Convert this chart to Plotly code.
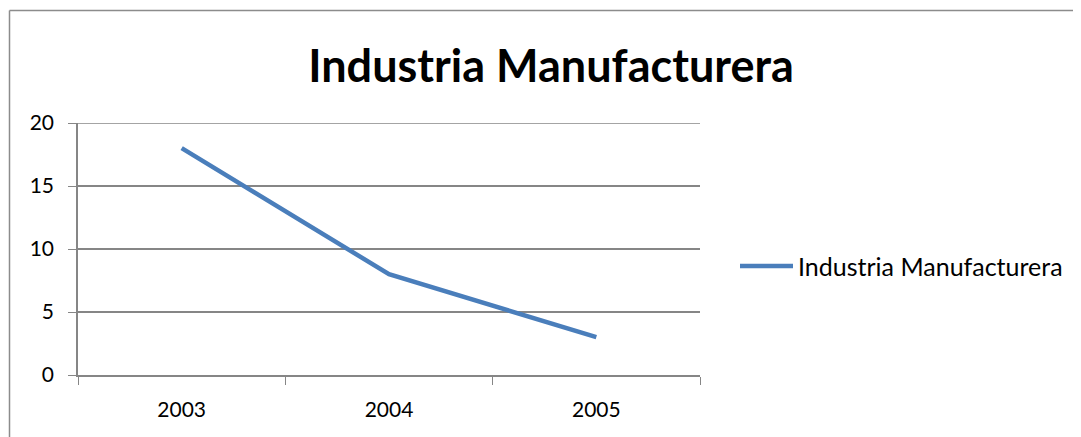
import plotly.graph_objects as go

categories = ["2003", "2004", "2005"]
values = [18, 8, 3]
series_name = "Industria Manufacturera"
title_text = "Industria Manufacturera"
y_ticks = [0, 5, 10, 15, 20]

FONT = "Lato, Carlito, Calibri, sans-serif"
LINE_COLOR = "#4A7EBB"
GRID = "#868686"

# figure sized so that, with the page's 8px body margin, it fills the window exactly
L, T, R, B = 70, 115, 381, 62
W, H = 1073, 429
PW, PH = W - L - R, H - T - B


def px_x(x):
    return (x - L) / PW


def px_y(y):
    return (H - B - y) / PH


fig = go.Figure()
fig.add_trace(go.Scatter(
    x=categories, y=values, mode="lines", name=series_name,
    line=dict(color=LINE_COLOR, width=4.5), showlegend=False,
))

fig.update_layout(
    width=W, height=H,
    margin=dict(l=L, r=R, t=T, b=B),
    paper_bgcolor="white", plot_bgcolor="white",
    font=dict(family=FONT, color="black", size=21),
    title=dict(text="<b>" + title_text + "</b>", x=543 / W, xref="container", xanchor="center",
               y=1 - 58 / H, yref="container", yanchor="middle",
               font=dict(size=45, family=FONT, color="black")),
    showlegend=False,
    shapes=[
        dict(type="line", xref="paper", yref="paper",
             x0=px_x(1.5), x1=px_x(1100), y0=px_y(2.5), y1=px_y(2.5),
             line=dict(color="#8C8C8C", width=1.5), layer="below"),
        dict(type="line", xref="paper", yref="paper",
             x0=px_x(1.5), x1=px_x(1.5), y0=px_y(460), y1=px_y(2.5),
             line=dict(color="#8C8C8C", width=1.5), layer="below"),
        dict(type="line", xref="paper", yref="paper",
             x0=px_x(732), x1=px_x(785), y0=px_y(258), y1=px_y(258),
             line=dict(color=LINE_COLOR, width=4.5)),
        dict(type="line", xref="paper", yref="y",
             x0=0, x1=1, y0=max(y_ticks), y1=max(y_ticks),
             line=dict(color=GRID, width=1.5), layer="below"),
    ],
    annotations=[dict(text=series_name, xref="paper", yref="paper",
                      x=px_x(788), y=px_y(258), xanchor="left", yanchor="middle",
                      showarrow=False, font=dict(size=25, family=FONT, color="black"))],
)

fig.update_xaxes(
    type="category", range=[-0.5, 2.5], tickson="boundaries",
    ticks="outside", ticklen=8, tickcolor=GRID, tickwidth=1,
    showline=True, linecolor=GRID, linewidth=1.5,
    showgrid=False, zeroline=False,
    tickfont=dict(size=21, family=FONT), ticklabelstandoff=15,
)
fig.update_yaxes(
    range=[0, 20], tickvals=y_ticks,
    ticks="outside", ticklen=8, tickcolor=GRID, tickwidth=1,
    showline=True, linecolor=GRID, linewidth=1.5,
    showgrid=True, gridcolor=GRID, gridwidth=1.5,
    zeroline=False, tickfont=dict(size=21, family=FONT),
    ticklabelstandoff=10,
)

fig.write_html("out.html")
